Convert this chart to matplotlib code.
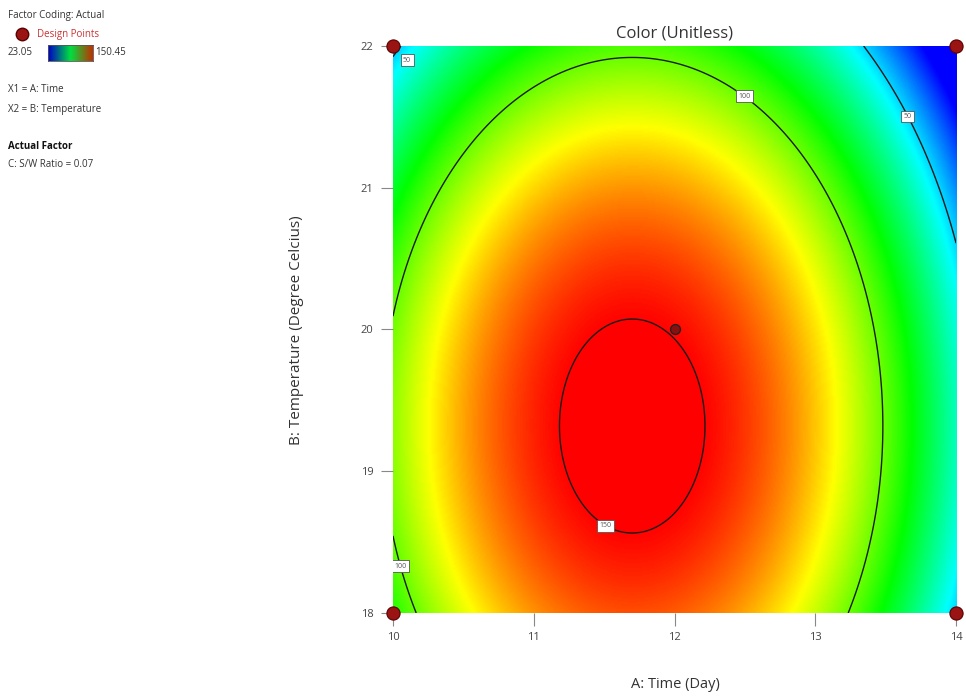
import numpy as np
import matplotlib
matplotlib.use("Agg")
import matplotlib.pyplot as plt
from matplotlib.colors import LinearSegmentedColormap
from matplotlib.lines import Line2D

plt.rcParams['font.family'] = ['Open Sans', 'DejaVu Sans']

# Factor ranges (actual units)
time_range = [10, 14]
temp_range = [18, 22]
x_ticks = [10, 11, 12, 13, 14]
y_ticks = [18, 19, 20, 21, 22]

# Quadratic response model in coded factors A, B:
# Color = b0 + bA*A + bB*B + bAA*A^2 + bBB*B^2
coef_names = ["b0", "bA", "bB", "bAA", "bBB"]
coef_values = [149.3, -20.7, -22.0, -68.9, -32.3]

# Colour scale limits and contour levels
color_min = 23.05
color_max = 150.45
contour_levels = [50, 100, 150]

# Design points
design_time = [10, 10, 14, 14, 12]
design_temp = [18, 22, 18, 22, 20]

# Fixed factor
sw_ratio = 0.07

b = dict(zip(coef_names, coef_values))

def color_model(t, temp):
    A = (t - 12.0) / 2.0
    B = (temp - 20.0) / 2.0
    return b["b0"] + b["bA"] * A + b["bB"] * B + b["bAA"] * A ** 2 + b["bBB"] * B ** 2

xs = np.linspace(time_range[0], time_range[1], 400)
ys = np.linspace(temp_range[0], temp_range[1], 400)
X, Y = np.meshgrid(xs, ys)
Z = color_model(X, Y)

cmap = LinearSegmentedColormap.from_list(
    "de", ["#0000ff", "#00ffff", "#00ff00", "#ffff00", "#ff0000"])

fig = plt.figure(figsize=(9.66, 6.96), dpi=100)
ax = fig.add_axes([0.4068, 0.1193, 0.5829, 0.8146])

ax.imshow(Z, extent=[time_range[0], time_range[1], temp_range[0], temp_range[1]],
          origin="lower", cmap=cmap, vmin=color_min, vmax=color_max,
          aspect="auto", interpolation="bilinear")
cs = ax.contour(X, Y, Z, levels=contour_levels, colors="#1a1a1a", linewidths=1.0)

label_pos = [(10.1, 21.93), (12.55, 21.72), (13.75, 21.55), (10.05, 18.33), (11.55, 18.68)]
labels = ax.clabel(cs, fmt="%d", fontsize=5, inline=False, manual=label_pos, colors="#555555")
for t in labels:
    t.set_rotation(0)
    t.set_bbox(dict(boxstyle="square,pad=0.35", fc="white", ec="#555555", lw=0.6))
    px, py = t.get_position()
    if px < 10.3 and py > 21.5:
        # keep the corner label clear of the design point marker
        t.set_position((10.1, 21.9))

# Design points
ax.scatter(design_time[:4], design_temp[:4], s=90, color="#9a1414", edgecolors="#5a0000",
           linewidths=0.8, zorder=5, clip_on=False)
ax.scatter(design_time[4:], design_temp[4:], s=50, color="#8a1010", edgecolors="#222222",
           linewidths=1.0, zorder=5, clip_on=False)

ax.set_xlim(time_range)
ax.set_ylim(temp_range)
ax.set_xticks(x_ticks)
ax.set_yticks(y_ticks)
ax.tick_params(direction="out", length=9, width=0.8, color="#888888",
               labelsize=8, labelcolor="#444444", pad=5)
for s in ax.spines.values():
    s.set_visible(False)

ax.set_title("Color (Unitless)", fontsize=12, color="#333333", pad=6)
fig.text(0.699, 0.017, "A: Time (Day)", ha="center", va="center", fontsize=10.5, color="#333333")
fig.text(0.307, 0.526, "B: Temperature (Degree Celcius)", ha="center", va="center",
         fontsize=11, color="#333333", rotation=90)

# Side legend panel
fig.text(0.008, 0.978, "Factor Coding: Actual", fontsize=7, color="#333333", va="center")
fig.add_artist(Line2D([0.023], [0.951], marker="o", markersize=9, color="#9a1414",
                      markeredgecolor="#5a0000", transform=fig.transFigure))
fig.text(0.038, 0.951, "Design Points", fontsize=7, color="#cc3333", va="center")
fig.text(0.008, 0.924, f"{color_min:.2f}", fontsize=7, color="#333333", va="center")
grad = np.linspace(0, 1, 100).reshape(1, -1)
mini_cmap = LinearSegmentedColormap.from_list("mini", ["#0000c8", "#00e040", "#c03000"])
cax = fig.add_axes([0.05, 0.913, 0.046, 0.022])
cax.imshow(grad, cmap=mini_cmap, aspect="auto")
cax.set_xticks([])
cax.set_yticks([])
for s in cax.spines.values():
    s.set_color("#555555")
    s.set_linewidth(0.6)
fig.text(0.099, 0.924, f"{color_max:.2f}", fontsize=7, color="#333333", va="center")
fig.text(0.008, 0.871, "X1 = A: Time", fontsize=7, color="#333333", va="center")
fig.text(0.008, 0.843, "X2 = B: Temperature", fontsize=7, color="#333333", va="center")
fig.text(0.008, 0.790, "Actual Factor", fontsize=7, color="#111111", va="center", fontweight="bold")
fig.text(0.008, 0.763, f"C: S/W Ratio = {sw_ratio}", fontsize=7, color="#333333", va="center")

fig.savefig("out.png", dpi=100)
